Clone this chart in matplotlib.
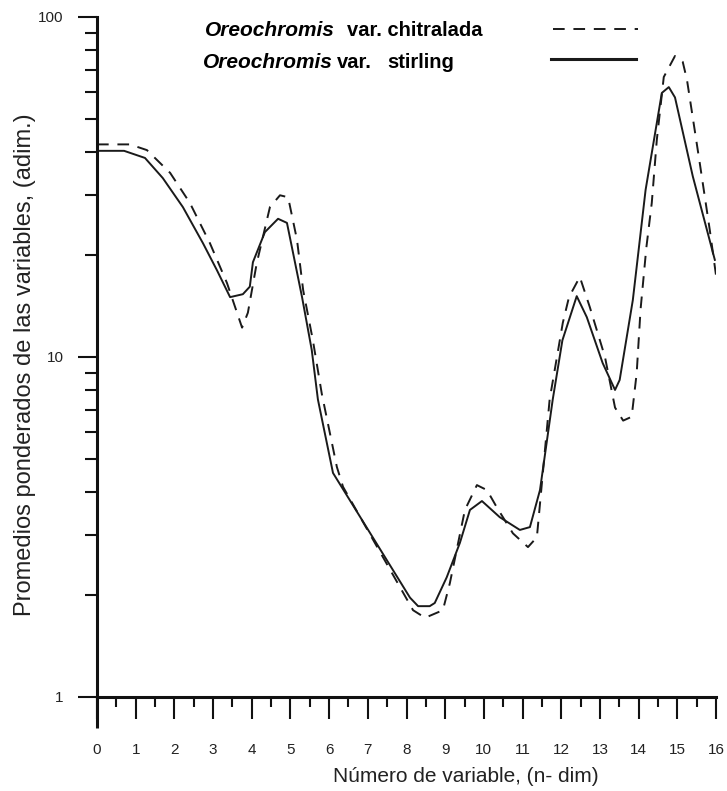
import matplotlib
matplotlib.use("Agg")
import matplotlib.pyplot as plt
from matplotlib.ticker import FixedLocator, NullFormatter

# Oreochromis var. stirling (linea continua)
x_stirling = [0, 0.7, 1.24, 1.7, 2.22, 2.74, 3.1, 3.44, 3.77, 3.95, 4.03, 4.34,
              4.68, 4.91, 5.3, 5.55, 5.71, 6.1, 8.09, 8.3, 8.6, 8.73, 9.04, 9.38,
              9.64, 9.95, 10.41, 10.93, 11.19, 11.45, 11.78, 12.03, 12.4, 12.66,
              13.07, 13.39, 13.51, 13.85, 14.18, 14.6, 14.78, 14.94, 15.4, 15.97]
y_stirling = [40.4, 40.4, 38.5, 33.6, 27.6, 21.6, 18.0, 15.0, 15.3, 16.1, 19.0, 23.3,
              25.5, 24.8, 15.0, 10.5, 7.5, 4.56, 1.96, 1.85, 1.85, 1.89, 2.25, 2.84,
              3.55, 3.77, 3.38, 3.1, 3.16, 4.06, 7.5, 11.2, 15.1, 13.1,
              9.6, 8.0, 8.56, 14.7, 31.0, 59.8, 62.2, 58.0, 34.0, 19.3]

# Oreochromis var. chitralada (linea discontinua)
x_chitralada = [0, 0.85, 1.29, 1.89, 2.4, 2.92, 3.36, 3.75, 3.9, 4.13, 4.47, 4.73,
                4.94, 5.17, 5.33, 5.58, 5.81, 6.2, 6.36, 8.17, 8.48, 8.94, 9.12, 9.51,
                9.82, 10.08, 10.33, 10.75, 11.14, 11.37, 11.5, 11.7, 12.04, 12.2,
                12.48, 12.74, 13.13, 13.39, 13.6, 13.82, 13.95, 14.05, 14.2, 14.34,
                14.47, 14.65, 14.94, 15.14, 15.25, 15.58, 15.84, 16.0]
y_chitralada = [42.2, 42.2, 40.6, 34.8, 28.4, 21.6, 16.5, 12.2, 13.5, 18.9, 27.6, 29.9,
                29.5, 22.1, 15.7, 11.2, 7.8, 4.75, 4.15, 1.8, 1.71, 1.8, 2.16, 3.55,
                4.2, 4.06, 3.62, 3.03, 2.76, 2.95, 4.26, 7.5, 12.6, 15.0,
                17.2, 14.0, 10.0, 7.1, 6.5, 6.67, 8.97, 13.8, 21.0, 28.4,
                43.5, 66.6, 76.8, 73.8, 65.3, 37.2, 23.6, 17.4]

x_ticks = list(range(0, 17))
x_minor = [i + 0.5 for i in range(16)]
y_ticks = [1, 10, 100]
y_minor = [m * d for d in (1, 10) for m in range(2, 10)]

plt.rcParams['font.family'] = ['Liberation Sans', 'DejaVu Sans']

fig = plt.figure(figsize=(7.27, 7.91), dpi=100)
ax = fig.add_axes([97/727, 1 - 697/791, (716 - 97)/727, (697 - 17)/791])

dash = (0, (6, 4.5))
ax.plot(x_chitralada, y_chitralada, color='#1a1a1a', lw=1.4, linestyle=dash)
ax.plot(x_stirling, y_stirling, color='#1a1a1a', lw=1.4)

ax.set_yscale('log')
ax.set_xlim(0, 16)
ax.set_ylim(1, 100)

for s in ['top', 'right']:
    ax.spines[s].set_visible(False)
for s in ['left', 'bottom']:
    ax.spines[s].set_linewidth(2.2)
    ax.spines[s].set_color('#111111')

ax.xaxis.set_major_locator(FixedLocator(x_ticks))
ax.xaxis.set_minor_locator(FixedLocator(x_minor))
ax.set_xticklabels([str(t) for t in x_ticks], fontsize=11, color='#222222')
ax.yaxis.set_major_locator(FixedLocator(y_ticks))
ax.yaxis.set_minor_locator(FixedLocator(y_minor))
ax.yaxis.set_minor_formatter(NullFormatter())
ax.set_yticklabels(['1', '10', '100'], fontsize=11, color='#222222')

ax.tick_params(axis='x', which='major', direction='out', length=16, width=1.5, pad=17, color='#111111')
ax.tick_params(axis='x', which='minor', direction='out', length=7, width=1.5, color='#111111')
ax.tick_params(axis='y', which='major', direction='out', length=14, width=1.5, pad=10, color='#111111')
ax.tick_params(axis='y', which='minor', direction='out', length=9, width=1.5, color='#111111')

# prolongacion del eje vertical bajo el origen
ax.plot([0, 0], [0, -0.045], transform=ax.get_xaxis_transform(), color='#111111',
        lw=2.2, clip_on=False, solid_capstyle='butt')

fig.text(466/727, 1 - 777/791, 'Número de variable, (n- dim)', fontsize=15,
         color='#222222', ha='center', va='center')
fig.text(25/727, 1 - 365/791, 'Promedios ponderados de las variables, (adim.)',
         fontsize=17, color='#222222', rotation=90, ha='center', va='center')

# leyenda dibujada a mano
fig.text(205/727, 1 - 36/791, 'Oreochromis', style='italic', weight='bold',
         fontsize=15, va='baseline', ha='left')
fig.text(347/727, 1 - 36/791, 'var. chitralada', weight='bold',
         fontsize=14.5, va='baseline', ha='left')
fig.text(203/727, 1 - 68/791, 'Oreochromis', style='italic', weight='bold',
         fontsize=15, va='baseline', ha='left')
fig.text(337/727, 1 - 68/791, 'var.', weight='bold',
         fontsize=14.5, va='baseline', ha='left')
fig.text(387/727, 1 - 68/791, 'stirling', weight='bold',
         fontsize=14.5, va='baseline', ha='left')
fig.add_artist(plt.Line2D([553/727, 638/727], [1 - 29/791, 1 - 29/791],
                          color='#1a1a1a', lw=1.4, linestyle=dash))
fig.add_artist(plt.Line2D([551/727, 636/727], [1 - 59/791, 1 - 59/791],
                          color='#1a1a1a', lw=2.2))

fig.savefig('out.png', dpi=100)
